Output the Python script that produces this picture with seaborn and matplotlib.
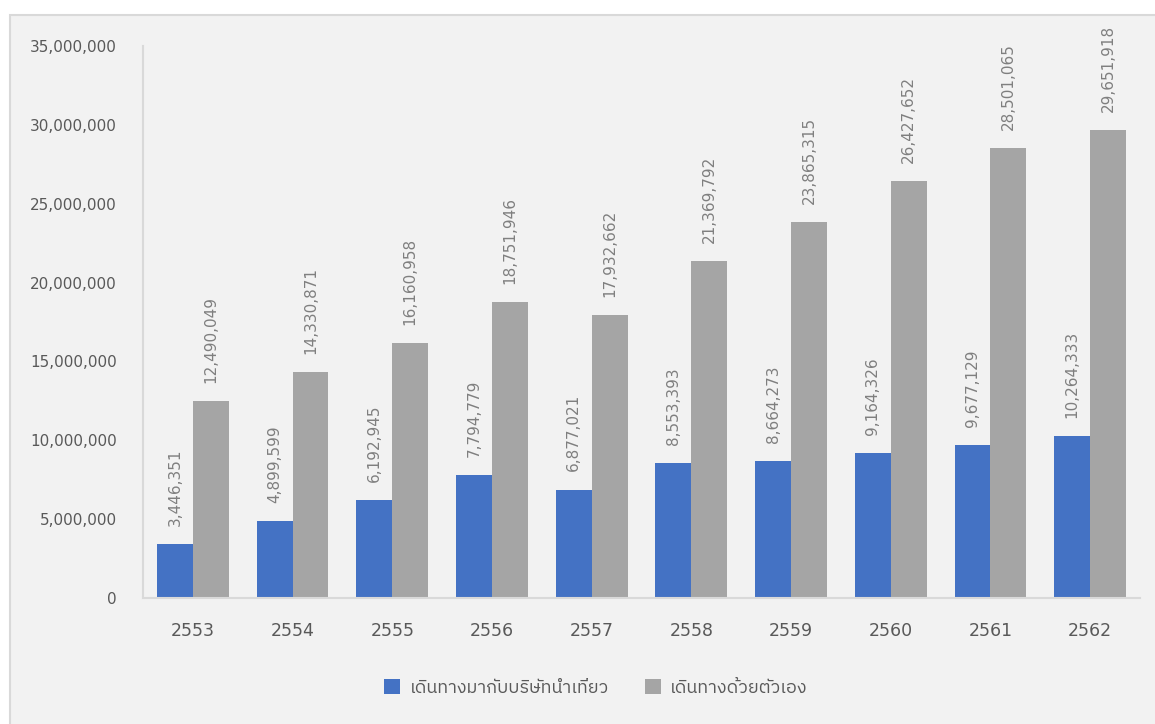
import numpy as np
import pandas as pd
import seaborn as sns
import matplotlib
matplotlib.use("Agg")
import matplotlib.pyplot as plt
from matplotlib import font_manager
from matplotlib.ft2font import FT2Font
from matplotlib.patches import Rectangle
from matplotlib.ticker import FuncFormatter

# Visitor counts per Thai year (B.E.)
years = ["2553", "2554", "2555", "2556", "2557", "2558", "2559", "2560", "2561", "2562"]
series_names = ["เดินทางมากับบริษัทนำเที่ยว", "เดินทางด้วยตัวเอง"]
tour_group = [3446351, 4899599, 6192945, 7794779, 6877021,
              8553393, 8664273, 9164326, 9677129, 10264333]
independent = [12490049, 14330871, 16160958, 18751946, 17932662,
               21369792, 23865315, 26427652, 28501065, 29651918]

df = pd.DataFrame({
    "year": years * 2,
    "series": [series_names[0]] * len(years) + [series_names[1]] * len(years),
    "value": tour_group + independent,
})


def find_thai_family():
    """Return the name of an installed font that covers Thai script."""
    preferred = []
    others = []
    for f in font_manager.fontManager.ttflist:
        try:
            cmap = FT2Font(f.fname).get_charmap()
        except Exception:
            continue
        if 0x0E40 in cmap and 0x0E14 in cmap:
            if "Sans" in f.name or "Thai" in f.name:
                preferred.append(f.name)
            else:
                others.append(f.name)
    for lst in (preferred, others):
        if lst:
            return lst[0]
    return None


sns.set_theme(style="white")
thai = find_thai_family()
families = ["DejaVu Sans"] + ([thai] if thai else [])
plt.rcParams["font.family"] = families

BLUE = "#4472C4"
GRAY = "#A5A5A5"
TEXT = "#595959"
AXIS = "#D9D9D9"

fig = plt.figure(figsize=(11.55, 7.24), dpi=100, facecolor="white")

# Light chart-area panel with a thin border
panel = Rectangle((10 / 1155, -0.01), 1.1, 1 - 15 / 724 + 0.01,
                  transform=fig.transFigure, facecolor="#F2F2F2",
                  edgecolor=AXIS, linewidth=1.5, zorder=-10)
fig.patches.append(panel)

ax = fig.add_axes([143 / 1155, 1 - 598 / 724, (1140 - 143) / 1155, (598 - 46) / 724])
ax.set_facecolor("none")

sns.barplot(data=df, x="year", y="value", hue="series", hue_order=series_names,
            palette=[BLUE, GRAY], width=0.72, ax=ax, saturation=1,
            errorbar=None, legend=True, linewidth=0)

for container in ax.containers:
    ax.bar_label(container, labels=[f"{v:,.0f}" for v in container.datavalues],
                 rotation=90, padding=13, color="#7F7F7F", fontsize=11)

ax.set_ylim(0, 35_000_000)
ax.set_yticks(np.arange(0, 35_000_001, 5_000_000))
ax.yaxis.set_major_formatter(FuncFormatter(lambda v, _: f"{v:,.0f}"))
ax.set_xlim(-0.5, len(years) - 0.5)
ax.set_xlabel("")
ax.set_ylabel("")

ax.tick_params(axis="y", length=0, pad=19, labelsize=11, labelcolor=TEXT)
ax.tick_params(axis="x", length=0, pad=17, labelsize=12.5, labelcolor=TEXT)

for side in ("top", "right"):
    ax.spines[side].set_visible(False)
for side in ("left", "bottom"):
    ax.spines[side].set_color(AXIS)
    ax.spines[side].set_linewidth(1.5)

handles, labels = ax.get_legend_handles_labels()
ax.get_legend().remove()
fig.legend(handles, labels, loc="center", bbox_to_anchor=(596 / 1155, 1 - 688 / 724),
           ncol=2, frameon=False, handlelength=0.9, handleheight=0.9,
           handletextpad=0.5, columnspacing=2.0, fontsize=13, labelcolor=TEXT)

fig.savefig("out.png", dpi=100, facecolor="white")
